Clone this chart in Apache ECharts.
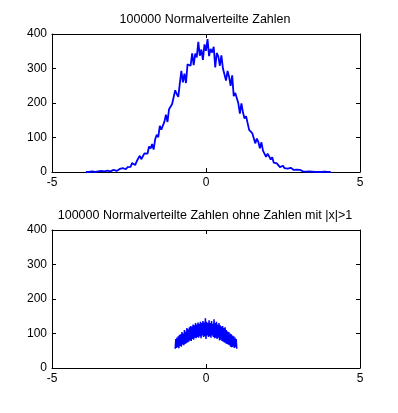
<!DOCTYPE html>
<html>
<head>
<meta charset="utf-8">
<script src="https://cdn.jsdelivr.net/npm/echarts@6/dist/echarts.min.js"></script>
<style>
  html, body { margin: 0; padding: 0; background: #fff; }
  #chart { width: 398px; height: 413px; }
</style>
</head>
<body>
<div id="chart"></div>
<script>
// titles of the two subplots
const topTitle = '100000 Normalverteilte Zahlen';
const bottomTitle = '100000 Normalverteilte Zahlen ohne Zahlen mit |x|>1';

// upper plot: histogram counts, bins from -3.9 in steps of 0.05
const topStart = -3.9;
const topStep = 0.05;
const topCounts = [
  0, 1, 0, 0, 2, 1, 0, 0, 2, 1, 3, 0, 2, 1, 4, 3, 2, 5, 6, 4, 3, 7, 9, 6, 11, 12, 8, 14,
  17, 15, 26, 23, 20, 31, 30, 47, 37, 33, 54, 54, 53, 74, 68, 81, 65, 95, 108, 101,
  134, 123, 123, 146, 166, 145, 182, 181, 197, 193, 237, 226, 218, 257, 293, 260, 285, 258,
  312, 307, 308, 344, 310, 343, 332, 377, 337, 355, 325, 370,
  351, 385, 336, 357, 346, 363, 303, 345, 335, 308, 338, 300, 298, 265, 293, 276, 250, 280,
  220, 229, 226, 199, 169, 199, 173, 155, 162, 161, 122, 127, 113, 118, 83, 97, 87, 69,
  86, 62, 59, 44, 53, 45, 36, 43, 27, 31, 25, 27, 14, 19, 18,
  11, 15, 10, 8, 12, 9, 6, 5, 7, 4, 6, 3, 2, 4, 1, 3, 2, 0, 1, 2, 0, 1, 0, 2, 0, 0, 1, 0, 0, 1, 0
];

// lower plot: only |x| <= 1, bins from -1 in steps of 0.02
const bottomStart = -1;
const bottomStep = 0.02;
const bottomCounts = [
  56, 84, 58, 88, 60, 92, 57, 96, 64, 98, 62, 104, 68, 100, 66, 110, 70, 106, 72, 116,
  74, 112, 76, 118, 80, 122, 78, 120, 84, 126, 82, 124, 88, 130, 86, 126, 90, 132, 88, 128,
  92, 134, 86, 130, 94, 136, 90, 132, 92, 144,
  84,
  134, 94, 130, 90, 138, 92, 130, 88, 136, 94, 128, 90, 141, 86, 130, 88, 134, 84, 126, 88,
  130, 80, 124, 82, 120, 78, 122, 76, 116, 74, 118, 72, 110, 70, 106, 68, 104, 66, 100, 62,
  98, 60, 94, 62, 92, 58, 88, 60, 84, 56
];

const toPoints = (start, step, counts) =>
  counts.map((c, i) => [+(start + i * step).toFixed(4), c]);

const font = "'Liberation Sans', Arial, Helvetica, sans-serif";
const grids = [
  { left: 52, width: 308, top: 34, height: 138 },
  { left: 52, width: 308, top: 230, height: 138 }
];

const tick = { show: true, inside: true, length: 4, lineStyle: { color: '#000', width: 1 } };
const line = { show: true, onZero: false, lineStyle: { color: '#000', width: 1 } };
const label = { color: '#000', fontSize: 12, fontFamily: font };
const titleStyle = { fontSize: 12.5, fontWeight: 'normal', color: '#000', fontFamily: font };

const xAxis = [];
const yAxis = [];
grids.forEach((g, gi) => {
  xAxis.push({
    type: 'value', gridIndex: gi, min: -5, max: 5, interval: 5, position: 'bottom',
    axisLine: line, axisTick: tick, splitLine: { show: false },
    axisLabel: Object.assign({ margin: 5 }, label)
  });
  xAxis.push({
    type: 'value', gridIndex: gi, min: -5, max: 5, interval: 5, position: 'top',
    axisLine: line, axisTick: tick, splitLine: { show: false }, axisLabel: { show: false }
  });
  yAxis.push({
    type: 'value', gridIndex: gi, min: 0, max: 400, interval: 100, position: 'left',
    axisLine: line, axisTick: tick, splitLine: { show: false },
    axisLabel: Object.assign({ margin: 5 }, label)
  });
  yAxis.push({
    type: 'value', gridIndex: gi, min: 0, max: 400, interval: 100, position: 'right',
    axisLine: line, axisTick: tick, splitLine: { show: false }, axisLabel: { show: false }
  });
});

const chart = echarts.init(document.getElementById('chart'));
chart.setOption({
  animation: false,
  backgroundColor: '#fff',
  title: [
    { text: topTitle, left: 205, top: 13, textAlign: 'center', padding: 0, textStyle: titleStyle },
    { text: bottomTitle, left: 205, top: 209, textAlign: 'center', padding: 0, textStyle: titleStyle }
  ],
  grid: grids,
  xAxis: xAxis,
  yAxis: yAxis,
  series: [
    {
      type: 'line', xAxisIndex: 0, yAxisIndex: 0, showSymbol: false,
      data: toPoints(topStart, topStep, topCounts),
      lineStyle: { color: '#0000ff', width: 1.8 }
    },
    {
      type: 'line', xAxisIndex: 2, yAxisIndex: 2, showSymbol: false,
      data: toPoints(bottomStart, bottomStep, bottomCounts),
      lineStyle: { color: '#0000ff', width: 1.5 }
    }
  ]
});
</script>
</body>
</html>
